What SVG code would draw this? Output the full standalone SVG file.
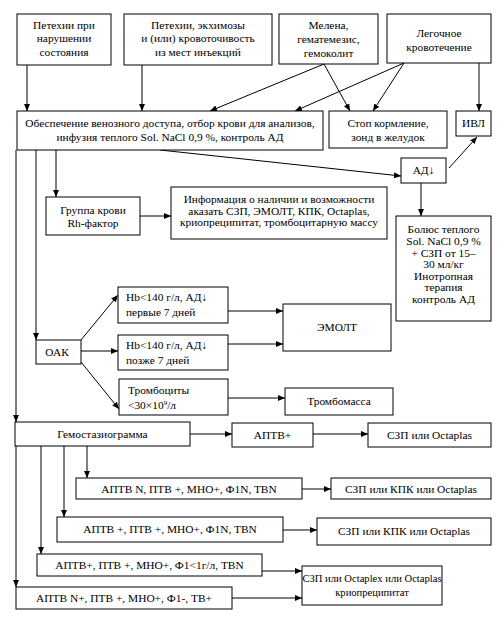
<svg xmlns="http://www.w3.org/2000/svg" width="504" height="618" viewBox="0 0 504 618" font-family="'Liberation Serif', 'DejaVu Serif', serif" font-size="11.4">
<defs>
<marker id="ah" markerUnits="userSpaceOnUse" markerWidth="8" markerHeight="8" refX="7" refY="3" orient="auto">
<path d="M0,0 L7,3 L0,6 Z" fill="#000"/>
</marker>
<style>
rect{fill:#fff;stroke:#000;stroke-width:1}
text{font-family:'Liberation Serif','DejaVu Serif',serif;font-size:11.4px;fill:#000}
.c{text-anchor:middle}
.s{font-size:10.6px}
#connectors line{stroke:#000;stroke-width:1;fill:none}
#connectors .a{marker-end:url(#ah)}
</style>
</defs>
<rect x="0" y="0" width="504" height="618" style="stroke:none"/>
<g id="connectors">
<line class="a" x1="27" y1="65" x2="27" y2="111"/>
<line class="a" x1="142" y1="65" x2="142" y2="111"/>
<line class="a" x1="324" y1="64" x2="210" y2="111"/>
<line class="a" x1="324" y1="64" x2="350" y2="111"/>
<line class="a" x1="404" y1="63" x2="295" y2="111"/>
<line class="a" x1="404" y1="63" x2="373" y2="111"/>
<line class="a" x1="479" y1="63" x2="479" y2="111"/>
<line class="a" x1="160" y1="150" x2="401" y2="176"/>
<line class="a" x1="449" y1="168" x2="477" y2="137"/>
<line class="a" x1="421" y1="183" x2="421" y2="216"/>
<line class="a" x1="56" y1="150" x2="56" y2="197"/>
<line class="a" x1="36" y1="150" x2="36" y2="340"/>
<line class="a" x1="16" y1="150" x2="16" y2="422"/>
<line class="a" x1="140" y1="216" x2="171" y2="216"/>
<line class="a" x1="81" y1="340" x2="118" y2="295"/>
<line class="a" x1="81" y1="351" x2="118" y2="351"/>
<line class="a" x1="81" y1="362" x2="119" y2="409"/>
<line class="a" x1="228" y1="311" x2="283" y2="311"/>
<line class="a" x1="228" y1="344" x2="283" y2="344"/>
<line class="a" x1="228" y1="398" x2="285" y2="398"/>
<line class="a" x1="190" y1="434" x2="232" y2="434"/>
<line class="a" x1="313" y1="434" x2="368" y2="434"/>
<line class="a" x1="16" y1="446" x2="16" y2="587"/>
<line class="a" x1="41" y1="446" x2="41" y2="554"/>
<line class="a" x1="64" y1="446" x2="64" y2="517"/>
<line class="a" x1="87" y1="446" x2="87" y2="478"/>
<line class="a" x1="302" y1="489" x2="331" y2="489"/>
<line class="a" x1="283" y1="530" x2="317" y2="530"/>
<line class="a" x1="262" y1="571" x2="302" y2="571"/>
<line class="a" x1="232" y1="598" x2="302" y2="598"/>
</g>
<g id="n1"><rect x="17" y="14" width="94" height="51"/><text class="c" x="64" y="29">Петехии при</text><text class="c" x="64" y="42">нарушении</text><text class="c" x="64" y="56">состояния</text></g>
<g id="n2"><rect x="124" y="14" width="148" height="51"/><text class="c" x="198" y="29">Петехии, экхимозы</text><text class="c" x="198" y="42">и (или) кровоточивость</text><text class="c" x="198" y="56">из мест инъекций</text></g>
<g id="n3"><rect x="279" y="14" width="99" height="50"/><text class="c" x="328.5" y="29">Мелена,</text><text class="c" x="328.5" y="43">гематемезис,</text><text class="c" x="328.5" y="57">гемоколит</text></g>
<g id="n4"><rect x="387" y="14" width="104" height="49"/><text class="c" x="439" y="37">Легочное</text><text class="c" x="439" y="51">кровотечение</text></g>
<g id="n5"><rect x="17" y="111" width="306" height="39"/><text class="c" x="170" y="127">Обеспечение венозного доступа, отбор крови для анализов,</text><text class="c" x="170" y="141">инфузия теплого Sol. NaCl 0,9 %, контроль АД</text></g>
<g id="n6"><rect x="329" y="111" width="118" height="37"/><text class="c" x="388" y="127">Стоп кормление,</text><text class="c" x="388" y="141">зонд в желудок</text></g>
<g id="n7"><rect x="456" y="111" width="35" height="25"/><text class="c" x="473.5" y="127">ИВЛ</text></g>
<g id="n8"><rect x="401" y="158" width="45" height="25"/><text class="c" x="423.5" y="174">АД↓</text></g>
<g id="n9"><rect x="396" y="216" width="95" height="105"/><text class="c" x="443.5" y="233">Болюс теплого</text><text class="c" x="443.5" y="245">Sol. NaCl 0,9 %</text><text class="c" x="443.5" y="257">+ СЗП от 15–</text><text class="c" x="443.5" y="268">30 мл/кг</text><text class="c" x="443.5" y="280">Инотропная</text><text class="c" x="443.5" y="291">терапия</text><text class="c" x="443.5" y="303">контроль АД</text></g>
<g id="n10"><rect x="46" y="197" width="94" height="38"/><text class="c" x="93" y="214">Группа крови</text><text class="c" x="93" y="227">Rh-фактор</text></g>
<g id="n11"><rect x="171" y="187" width="216" height="52"/><text class="c" x="279" y="203">Информация о наличии и возможности</text><text class="c" x="279" y="215">аказать СЗП, ЭМОЛТ, КПК, Octaplas,</text><text class="c" x="279" y="226">криопреципитат, тромбоцитарную массу</text></g>
<g id="n12"><rect x="36" y="340" width="45" height="24"/><text class="c" x="57" y="356">ОАК</text></g>
<g id="n13"><rect x="118" y="287" width="110" height="36"/><text x="126" y="301">Hb&lt;140 г/л, АД↓</text><text x="126" y="316">первые 7 дней</text></g>
<g id="n14"><rect x="118" y="335" width="110" height="35"/><text x="126" y="349">Hb&lt;140 г/л, АД↓</text><text x="126" y="364">позже 7 дней</text></g>
<g id="n15"><rect x="119" y="379" width="109" height="36"/><text x="128" y="394">Тромбоциты</text><text x="128" y="409">&lt;30×10<tspan font-size="7" dy="-4">9</tspan><tspan dy="4">/л</tspan></text></g>
<g id="n16"><rect x="283" y="304" width="108" height="47"/><text class="c" x="337" y="331">ЭМОЛТ</text></g>
<g id="n17"><rect x="285" y="388" width="108" height="27"/><text class="c" x="339" y="405">Тромбомасса</text></g>
<g id="n18"><rect x="15" y="422" width="175" height="24"/><text class="c" x="102.5" y="438">Гемостазиограмма</text></g>
<g id="n19"><rect x="232" y="423" width="81" height="24"/><text class="c" x="272.5" y="439">АПТВ+</text></g>
<g id="n20"><rect x="368" y="423" width="123" height="24"/><text class="c" x="429.5" y="439">СЗП или Octaplas</text></g>
<g id="n21"><rect x="76" y="478" width="226" height="21"/><text class="c" x="189" y="493">АПТВ N, ПТВ +, МНО+, Ф1N, TBN</text></g>
<g id="n22"><rect x="331" y="478" width="160" height="21"/><text class="c" x="411" y="493">СЗП или КПК или Octaplas</text></g>
<g id="n23"><rect x="57" y="517" width="226" height="25"/><text class="c" x="170" y="533">АПТВ +, ПТВ +, МНО+, Ф1N, TBN</text></g>
<g id="n24"><rect x="317" y="518" width="174" height="27"/><text class="c" x="404" y="535">СЗП или КПК или Octaplas</text></g>
<g id="n25"><rect x="37" y="554" width="225" height="22"/><text class="c" x="149.5" y="569">АПТВ+, ПТВ +, МНО+, Ф1&lt;1г/л, TBN</text></g>
<g id="n26"><rect x="16" y="587" width="216" height="22"/><text class="c" x="124" y="602">АПТВ N+, ПТВ +, МНО+, Ф1-, ТВ+</text></g>
<g id="n27"><rect x="302" y="566" width="140" height="39"/><text class="c s" x="372" y="582">СЗП или Octaplex или Octaplas</text><text class="c s" x="372" y="596">криопреципитат</text></g>
</svg>
